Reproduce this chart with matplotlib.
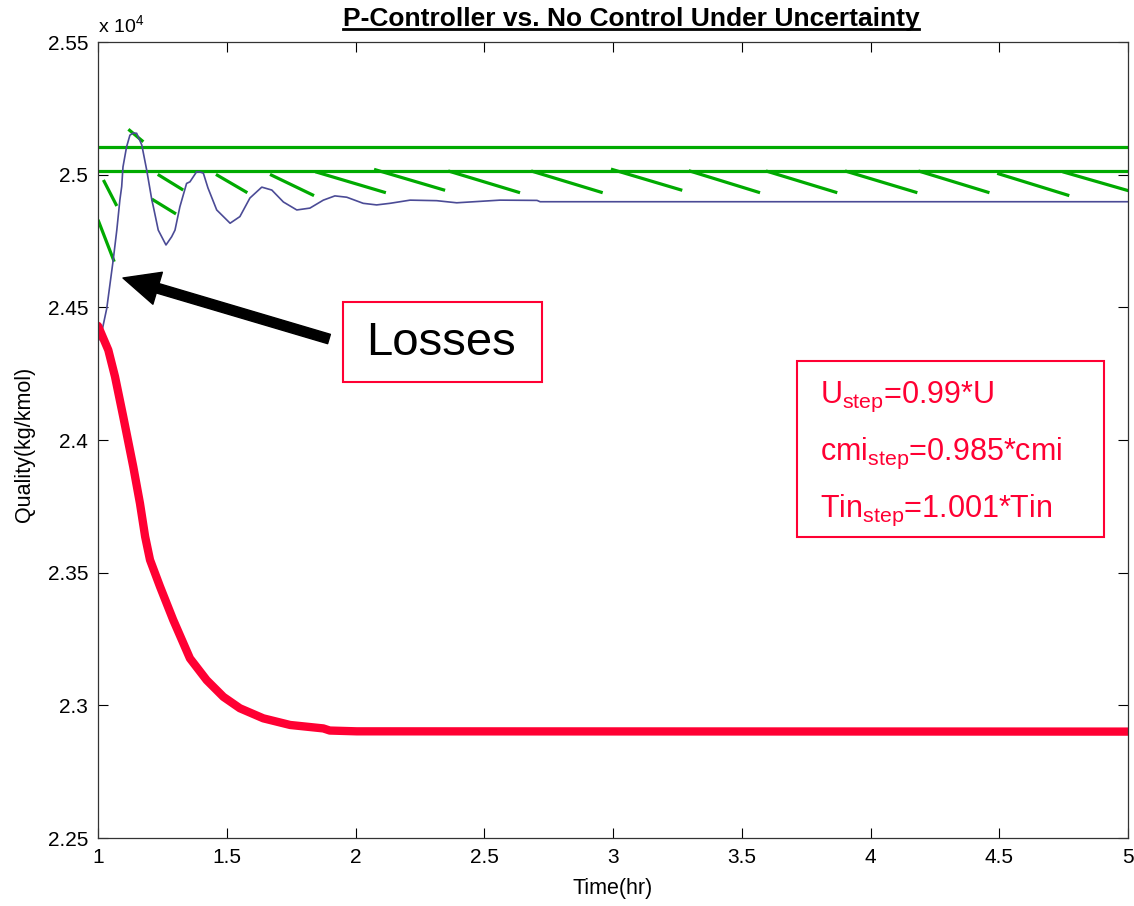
import matplotlib
matplotlib.use("Agg")
import matplotlib.pyplot as plt
from matplotlib.patches import Rectangle
from matplotlib.lines import Line2D
from matplotlib.ticker import FuncFormatter, MultipleLocator

plt.rcParams['font.family'] = ['Liberation Sans', 'DejaVu Sans']
plt.rcParams['mathtext.fontset'] = 'custom'
plt.rcParams['mathtext.rm'] = 'Liberation Sans'
plt.rcParams['mathtext.it'] = 'Liberation Sans:italic'
plt.rcParams['mathtext.bf'] = 'Liberation Sans:bold'

# P-controller response (time in hr, quality in kg/kmol)
t_p = [1.000, 1.008, 1.034, 1.059, 1.073, 1.085, 1.092, 1.097, 1.111, 1.124,
       1.137, 1.150, 1.170, 1.189, 1.209, 1.215, 1.234, 1.264, 1.286, 1.299,
       1.318, 1.344, 1.357, 1.383, 1.396, 1.409, 1.427, 1.461, 1.513, 1.551,
       1.590, 1.636, 1.675, 1.720, 1.772, 1.823, 1.875, 1.920, 1.966, 2.030,
       2.082, 2.134, 2.212, 2.315, 2.393, 2.561, 2.705, 2.717, 5.000]
q_p = [24422, 24377, 24496, 24678, 24791, 24905, 24955, 25029, 25105, 25149,
       25157, 25156, 25112, 25018, 24905, 24879, 24791, 24735, 24766, 24791,
       24879, 24967, 24973, 25011, 25010, 25006, 24950, 24867, 24817, 24842,
       24912, 24953, 24942, 24897, 24867, 24874, 24904, 24920, 24915, 24892,
       24886, 24892, 24904, 24902, 24894, 24904, 24903, 24898, 24898]

# no control response
t_nc = [1.000, 1.040, 1.066, 1.098, 1.137, 1.163, 1.183, 1.202, 1.241, 1.292,
        1.357, 1.422, 1.487, 1.551, 1.642, 1.746, 1.875, 1.900, 2.005, 5.000]
q_nc = [24430, 24339, 24239, 24088, 23899, 23761, 23636, 23548, 23447, 23322,
        23177, 23095, 23032, 22989, 22951, 22926, 22913, 22905, 22902, 22901]

# specification band
spec_hi = 25103
spec_lo = 25014

# hatch strokes below the band (start x, start y, end x, end y)
hx0 = [1.000, 1.021, 1.118, 1.232, 1.209, 1.458, 1.668, 1.844, 2.072, 2.360,
       2.682, 2.992, 3.294, 3.594, 3.901, 4.186, 4.492, 4.746]
hy0 = [24830, 24980, 25171, 25001, 24908, 25001, 25001, 25011, 25020, 25014,
       25014, 25021, 25015, 25014, 25014, 25014, 25005, 25011]
hx1 = [1.063, 1.073, 1.176, 1.331, 1.303, 1.580, 1.839, 2.118, 2.348, 2.639,
       2.960, 3.269, 3.571, 3.871, 4.182, 4.462, 4.772, 5.018]
hy1 = [24672, 24882, 25124, 24942, 24852, 24932, 24921, 24932, 24941, 24932,
       24932, 24941, 24932, 24932, 24932, 24932, 24921, 24935]

W, H = 1134, 906
fig = plt.figure(figsize=(W / 100, H / 100), dpi=100)
ax = fig.add_axes([98 / W, 1 - 838 / H, 1030 / W, 796 / H])

red = '#ff0033'
green = '#00aa00'

ax.plot([1, 5], [spec_hi, spec_hi], color=green, lw=2.3)
ax.plot([1, 5], [spec_lo, spec_lo], color=green, lw=2.3)
ax.plot([hx0, hx1], [hy0, hy1], color=green, lw=2.3, solid_capstyle='butt')
ax.plot(t_p, q_p, color='#4b4b96', lw=1.2)
ax.plot(t_nc, q_nc, color=red, lw=6, solid_capstyle='round')

ax.set_xlim(1, 5)
ax.set_ylim(22500, 25500)
ax.xaxis.set_major_locator(MultipleLocator(0.5))
ax.yaxis.set_major_locator(MultipleLocator(500))
ax.xaxis.set_major_formatter(FuncFormatter(lambda v, p: '%g' % v))
ax.yaxis.set_major_formatter(FuncFormatter(lambda v, p: '%g' % (v / 1e4)))
ax.tick_params(direction='in', length=7, width=0.8, top=True, right=True,
               labelsize=15, pad=7)
for s in ax.spines.values():
    s.set_linewidth(0.9)
    s.set_color('#333333')

ax.set_xlabel('Time(hr)', fontsize=15.5)
ax.xaxis.set_label_coords(0.5, -0.063)
ax.xaxis.label.set_verticalalignment('center')
ax.set_ylabel('Quality(kg/kmol)', fontsize=15.5)
ax.yaxis.set_label_coords(-0.071, 0.495)
ax.yaxis.label.set_verticalalignment('center')

fig.text(98 / W, 1 - 32 / H, r'x 10$^4$', fontsize=14, va='baseline')

title = fig.text(631 / W, 1 - 26 / H,
                 'P-Controller vs. No Control Under Uncertainty',
                 fontsize=19, fontweight='bold', ha='center', va='baseline')

# "Losses" callout
fig.add_artist(Rectangle((343 / W, 1 - 382 / H), 199 / W, 80 / H,
                         transform=fig.transFigure, fill=False,
                         edgecolor=red, lw=1.5))
fig.text(441 / W, 1 - 343 / H, 'Losses', fontsize=34, ha='center', va='center')
ax.annotate('', xy=(123 / W, 1 - 278 / H), xytext=(329 / W, 1 - 339 / H),
            xycoords='figure fraction', textcoords='figure fraction',
            arrowprops=dict(facecolor='black', edgecolor='black', width=7,
                            headwidth=24, headlength=26, shrink=0))

# disturbance box
fig.add_artist(Rectangle((797 / W, 1 - 537 / H), 307 / W, 176 / H,
                         transform=fig.transFigure, fill=False,
                         edgecolor=red, lw=1.5))
lines = [r'U$_{\mathrm{step}}$=0.99*U',
         r'cmi$_{\mathrm{step}}$=0.985*cmi',
         r'Tin$_{\mathrm{step}}$=1.001*Tin']
for i, s in enumerate(lines):
    fig.text(820 / W, 1 - (403 + 56.7 * i) / H, s, fontsize=22,
             color=red, va='baseline')

# underline the title
fig.canvas.draw()
bb = title.get_window_extent()
uy = H - 29
fig.add_artist(Line2D([bb.x0, bb.x1], [uy, uy], transform=None,
                      color='black', lw=2.0))

fig.savefig('out.png', dpi=100)
